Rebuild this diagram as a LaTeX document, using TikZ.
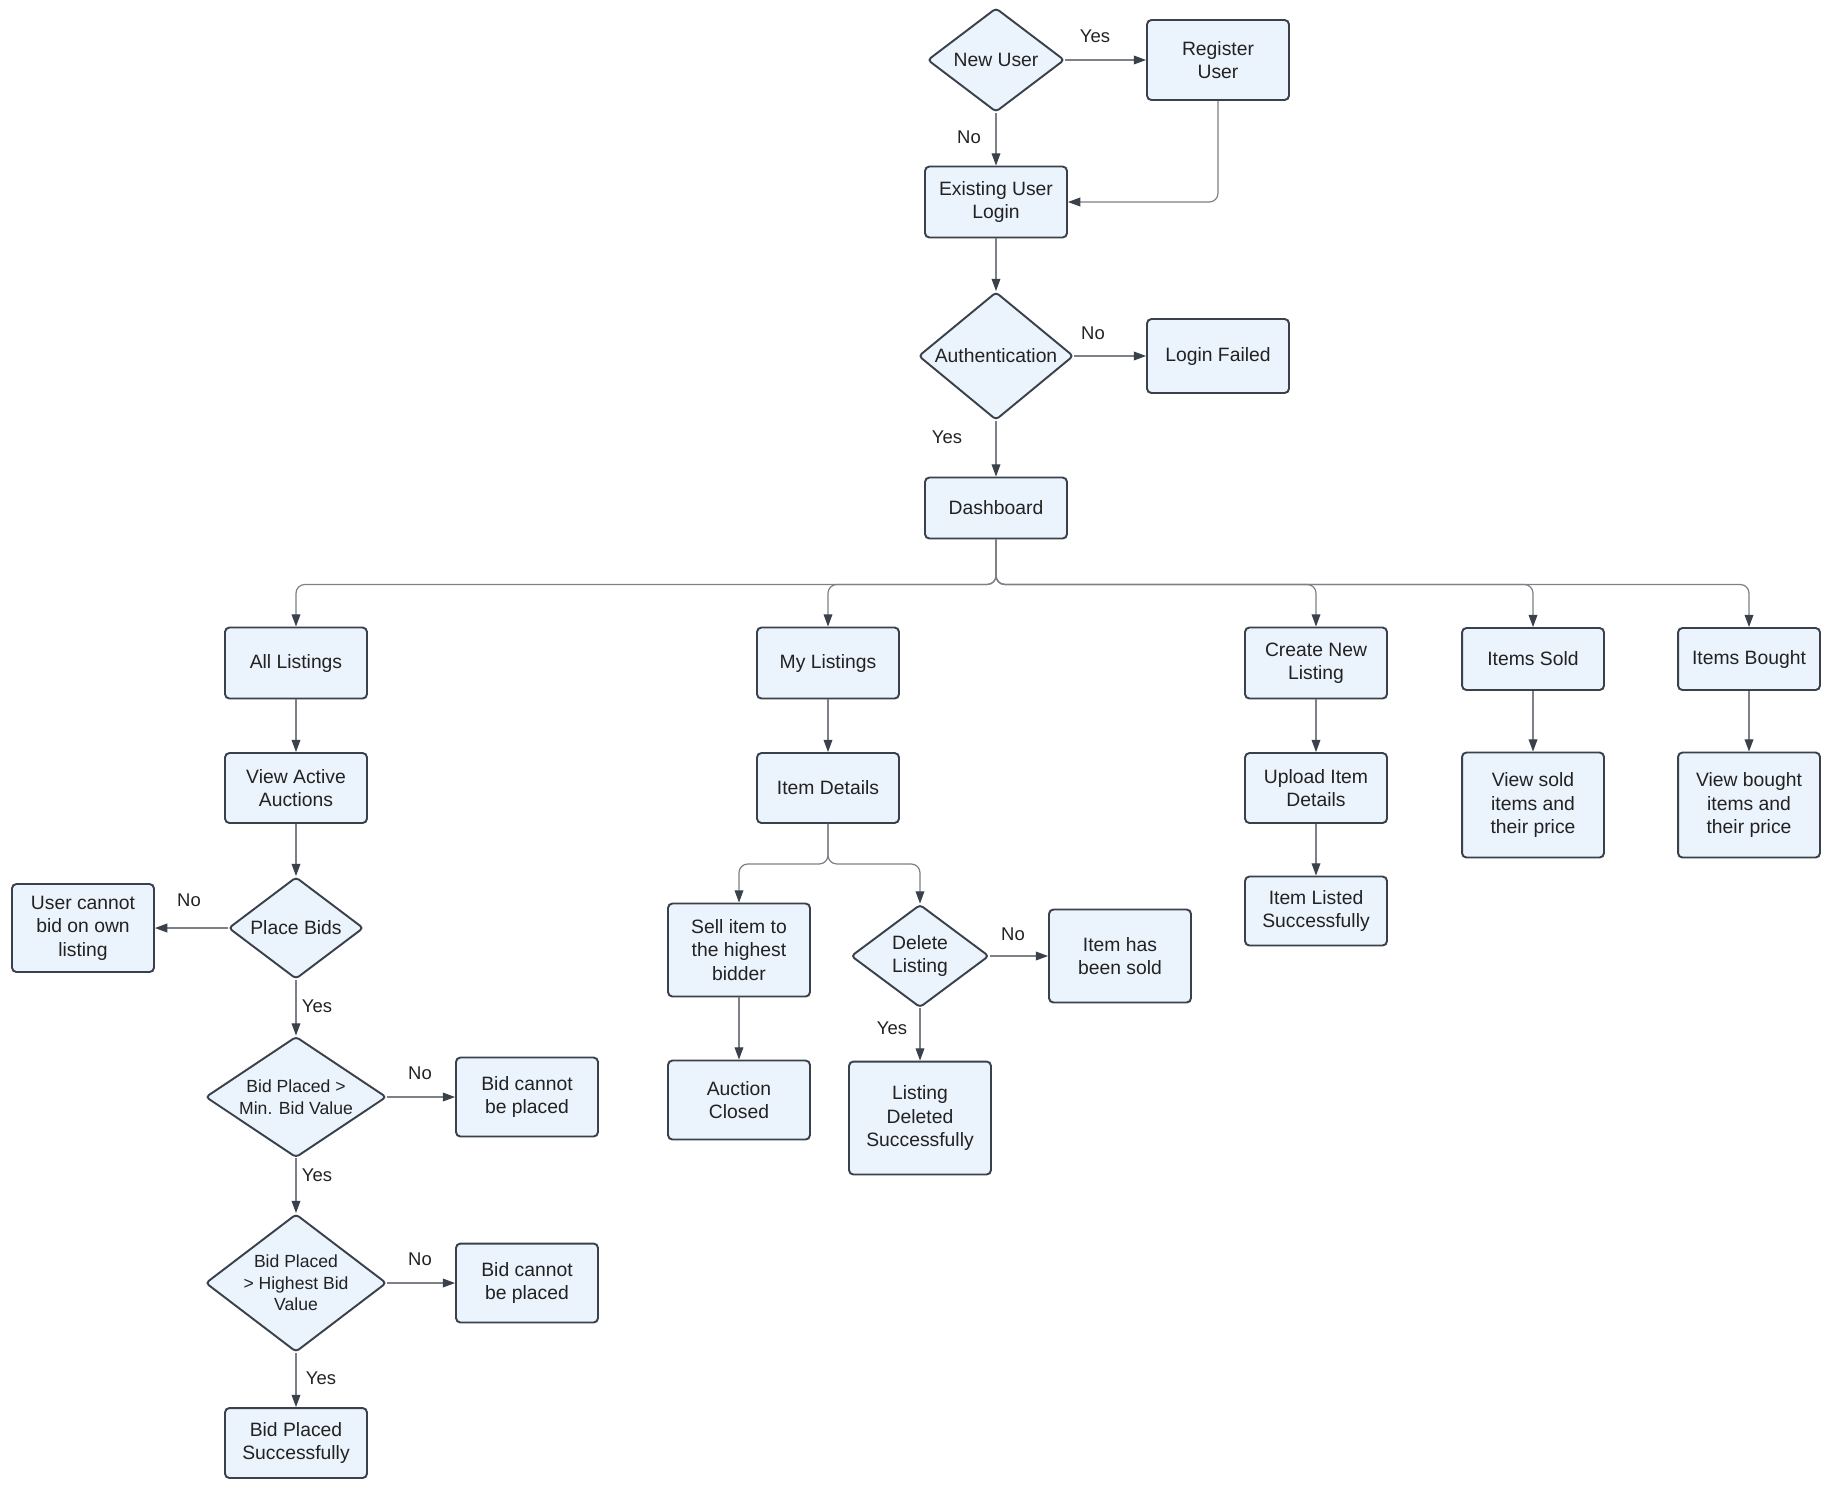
\documentclass[tikz,border=0pt]{standalone}
\usepackage{fontspec}
\setmainfont{Liberation Sans}
\usetikzlibrary{shapes.geometric,arrows.meta}
\definecolor{boxfill}{HTML}{EBF3FD}
\definecolor{boxline}{HTML}{3A414A}
\definecolor{linegray}{HTML}{7D8086}
\definecolor{txt}{HTML}{222222}

\begin{document}
\begin{tikzpicture}[x=0.02cm, y=-0.02cm, font=\fontsize{11}{13.3}\selectfont,
  box/.style={draw=boxline, fill=boxfill, rounded corners=2.5pt, line width=1.1pt, minimum width=2.84cm, align=center, text=txt},
  dia/.style={draw=boxline, fill=boxfill, diamond, rounded corners=2pt, line width=1.1pt, inner sep=-1pt, align=center, text=txt},
  small/.style={font=\fontsize{10}{12.3}\selectfont},
  flow/.style={draw=linegray, line width=0.7pt, rounded corners=5pt, -{Triangle[length=7pt,width=5pt,color=boxline]}},
  lbl/.style={text=txt, font=\fontsize{10.5}{12}\selectfont}]

\useasboundingbox (0,0) rectangle (1838,1492);

\node[dia, minimum width=2.74cm, minimum height=2.08cm, aspect=1.32] (newu) at (996,60) {New User};
\node[box, minimum height=1.6cm] (reg) at (1218,60) {Register\\User};
\node[box, minimum height=1.42cm] (login) at (996,202) {Existing User\\Login};
\node[dia, minimum width=3.1cm, minimum height=2.56cm, aspect=1.21] (auth) at (996,356) {Authentication};
\node[box, minimum height=1.48cm] (fail) at (1218,356) {Login Failed};
\node[box, minimum height=1.22cm] (dash) at (996,508) {Dashboard};

\node[box, minimum height=1.42cm] (all) at (296,663) {All Listings};
\node[box, minimum height=1.42cm] (mine) at (828,663) {My Listings};
\node[box, minimum height=1.42cm] (create) at (1316,663) {Create New\\Listing};
\node[box, minimum height=1.24cm] (sold) at (1533,659) {Items Sold};
\node[box, minimum height=1.24cm] (bought) at (1749,659) {Items Bought};

\node[box, minimum height=1.4cm] (view) at (296,788) {View Active\\Auctions};
\node[dia, minimum width=2.7cm, minimum height=2.04cm, aspect=1.32] (bids) at (296,928) {Place Bids};
\node[box, minimum height=1.76cm] (nobid) at (83,928) {User cannot\\bid on own\\listing};
\node[dia, small, minimum width=3.62cm, minimum height=2.42cm, aspect=1.5] (minb) at (296,1097) {Bid Placed >\\Min. Bid Value};
\node[box, minimum height=1.58cm] (nomin) at (527,1097) {Bid cannot\\be placed};
\node[dia, small, minimum width=3.62cm, minimum height=2.76cm, aspect=1.31] (highb) at (296,1283) {Bid Placed\\> Highest Bid\\Value};
\node[box, minimum height=1.58cm] (nohigh) at (527,1283) {Bid cannot\\be placed};
\node[box, minimum height=1.4cm] (placed) at (296,1443) {Bid Placed\\Successfully};

\node[box, minimum height=1.4cm] (details) at (828,788) {Item Details};
\node[box, minimum height=1.86cm] (sell) at (739,950) {Sell item to\\the highest\\bidder};
\node[box, minimum height=1.58cm] (closed) at (739,1100) {Auction\\Closed};
\node[dia, minimum width=2.76cm, minimum height=2.06cm, aspect=1.34] (del) at (920,956) {Delete\\Listing};
\node[box, minimum height=1.86cm] (itemsold) at (1120,956) {Item has\\been sold};
\node[box, minimum height=2.26cm] (deleted) at (920,1118) {Listing\\Deleted\\Successfully};

\node[box, minimum height=1.4cm] (upload) at (1316,788) {Upload Item\\Details};
\node[box, minimum height=1.38cm] (listed) at (1316,911) {Item Listed\\Successfully};
\node[box, minimum height=2.1cm] (viewsold) at (1533,805) {View sold\\items and\\their price};
\node[box, minimum height=2.1cm] (viewbought) at (1749,805) {View bought\\items and\\their price};

\draw[flow] (newu) -- (reg);
\draw[flow] (newu) -- (login);
\draw[flow] (reg.south) |- (login.east);
\draw[flow] (login) -- (auth);
\draw[flow] (auth) -- (fail);
\draw[flow] (auth) -- (dash);
\foreach \c in {all,mine,create,sold,bought}
  \draw[flow] (dash.south) -- ++(0,45) -| (\c.north);

\draw[flow] (all) -- (view);
\draw[flow] (view) -- (bids);
\draw[flow] (bids) -- (nobid);
\draw[flow] (bids) -- (minb);
\draw[flow] (minb) -- (nomin);
\draw[flow] (minb) -- (highb);
\draw[flow] (highb) -- (nohigh);
\draw[flow] (highb) -- (placed);

\draw[flow] (mine) -- (details);
\draw[flow] (details.south) -- ++(0,40) -| (sell.north);
\draw[flow] (details.south) -- ++(0,40) -| (del.north);
\draw[flow] (sell) -- (closed);
\draw[flow] (del) -- (itemsold);
\draw[flow] (del) -- (deleted);

\draw[flow] (create) -- (upload);
\draw[flow] (upload) -- (listed);
\draw[flow] (sold) -- (viewsold);
\draw[flow] (bought) -- (viewbought);

\node[lbl] (yes1) at (1095,36) {Yes};
\node[lbl] (no1) at (969,137) {No};
\node[lbl] (no2) at (1093,333) {No};
\node[lbl] (yes2) at (947,437) {Yes};
\node[lbl] (no3) at (189,900) {No};
\node[lbl] (yes3) at (317,1006) {Yes};
\node[lbl] (no4) at (420,1073) {No};
\node[lbl] (yes4) at (317,1175) {Yes};
\node[lbl] (no5) at (420,1259) {No};
\node[lbl] (yes5) at (321,1378) {Yes};
\node[lbl] (no6) at (1013,934) {No};
\node[lbl] (yes6) at (892,1028) {Yes};

\end{tikzpicture}
\end{document}
